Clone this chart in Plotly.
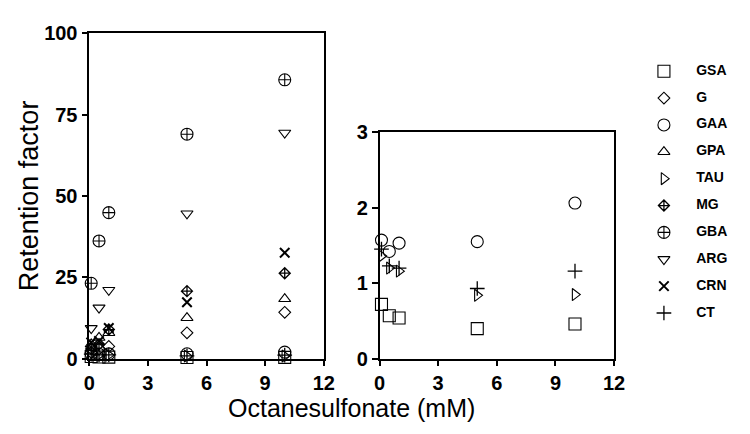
import plotly.graph_objects as go

# ---------------- data ----------------
conc = [0.1, 0.5, 1, 5, 10]  # Octanesulfonate (mM)

GSA = [0.72, 0.57, 0.54, 0.40, 0.46]
G = [2.0, 3.0, 3.8, 8.0, 14.3]
GAA = [1.57, 1.42, 1.53, 1.55, 2.06]
GPA = [4.5, 6.5, 8.0, 12.6, 18.4]
TAU = [1.36, 1.20, 1.16, 0.84, 0.85]
MG = [3.0, 4.5, 9.0, 20.8, 26.3]
GBA = [23.2, 36.2, 44.9, 69.0, 85.7]
ARG = [9.4, 15.7, 21.1, 44.6, 69.4]
CRN = [5.0, 5.5, 9.5, 17.4, 32.6]
CT = [1.45, 1.23, 1.20, 0.93, 1.16]

names = ["GSA", "G", "GAA", "GPA", "TAU", "MG", "GBA", "ARG", "CRN", "CT"]
series = [GSA, G, GAA, GPA, TAU, MG, GBA, ARG, CRN, CT]
right_panel = ["GSA", "GAA", "TAU", "CT"]

left_yticks = [0, 25, 50, 75, 100]
right_yticks = [0, 1, 2, 3]
xticks = [0, 3, 6, 9, 12]

# ---------------- styles ----------------
symbols = {
    "GSA": ("square-open", 12, 1.1),
    "G": ("diamond-open", 9, 1.1),
    "GAA": ("circle-open", 12, 1.1),
    "GPA": ("triangle-up-open", 10.5, 1.1),
    "TAU": ("triangle-right-open", 10.5, 1.1),
    "MG": ("diamond-cross-open", 8.5, 1.3),
    "GBA": ("circle-cross-open", 12, 1.1),
    "ARG": ("triangle-down-open", 10.5, 1.1),
    "CRN": ("x-thin-open", 9.5, 2.0),
    "CT": ("cross-thin-open", 10.5, 1.3),
}

W, H = 750, 434
OFF = 8  # default page body margin shifts the figure by this much
FONT = "Liberation Sans, Arial, Helvetica, sans-serif"


def px_x(p):
    return (p - OFF) / W


def px_y(p):
    return 1 - (p - OFF) / H


fig = go.Figure()

# left panel
for n, s in zip(names, series):
    sym, size, lw = symbols[n]
    fig.add_trace(go.Scatter(
        x=conc, y=s, mode="markers", name=n, showlegend=False,
        xaxis="x", yaxis="y", cliponaxis=False,
        marker=dict(symbol=sym, size=size, color="black",
                    line=dict(color="black", width=lw)),
    ))

# right panel (low retention compounds)
for n, s in zip(names, series):
    if n not in right_panel:
        continue
    sym, size, lw = symbols[n]
    fig.add_trace(go.Scatter(
        x=conc, y=s, mode="markers", name=n, showlegend=False,
        xaxis="x2", yaxis="y2", cliponaxis=False,
        marker=dict(symbol=sym, size=size, color="black",
                    line=dict(color="black", width=lw)),
    ))

# custom legend on a hidden pixel-coordinate axis
leg_y = [63 + i * 28.3 for i in range(len(names))]
for n, yy in zip(names, leg_y):
    sym, size, lw = symbols[n]
    fig.add_trace(go.Scatter(
        x=[673], y=[yy], mode="markers", showlegend=False,
        xaxis="x3", yaxis="y3", hoverinfo="skip",
        marker=dict(symbol=sym, size=size, color="black",
                    line=dict(color="black", width=lw)),
    ))
fig.add_trace(go.Scatter(
    x=[706] * len(names), y=leg_y, mode="text", text=names,
    textposition="middle right", showlegend=False,
    xaxis="x3", yaxis="y3", hoverinfo="skip",
    textfont=dict(family=FONT, size=14, color="black", weight="bold"),
))

axis_common = dict(
    showline=True, linecolor="black", linewidth=1.5, mirror=True,
    ticks="outside", tickwidth=1.5, tickcolor="black",
    showgrid=False, zeroline=False,
    tickfont=dict(family=FONT, size=20, color="black", weight="bold"),
)

fig.update_layout(
    width=W, height=H,
    margin=dict(l=0, r=0, t=0, b=0),
    paper_bgcolor="white", plot_bgcolor="rgba(0,0,0,0)",
    xaxis=dict(domain=[px_x(85), px_x(325)], range=[0, 12], ticklen=5,
               tickvals=xticks, anchor="y", **axis_common),
    yaxis=dict(domain=[px_y(366), px_y(23)], range=[0, 100], ticklen=6,
               tickvals=left_yticks, anchor="x", **axis_common),
    xaxis2=dict(domain=[px_x(382), px_x(622)], range=[0, 12], ticklen=5,
                tickvals=xticks, anchor="y2", **axis_common),
    yaxis2=dict(domain=[px_y(366), px_y(127)], range=[0, 3], ticklen=6,
                tickvals=right_yticks, anchor="x2", **axis_common),
    xaxis3=dict(domain=[0, 1], range=[OFF, W + OFF], visible=False, anchor="y3"),
    yaxis3=dict(domain=[0, 1], range=[H + OFF, OFF], visible=False, anchor="x3"),
    annotations=[
        dict(text="Retention factor", xref="paper", yref="paper",
             x=px_x(23), y=px_y(194), xanchor="center", yanchor="middle",
             showarrow=False, textangle=-90,
             font=dict(family=FONT, size=27, color="black")),
        dict(text="Octanesulfonate (mM)", xref="paper", yref="paper",
             x=px_x(353), y=px_y(418), xanchor="center", yanchor="middle",
             showarrow=False,
             font=dict(family=FONT, size=25, color="black")),
    ],
)

fig.write_html("out.html")
